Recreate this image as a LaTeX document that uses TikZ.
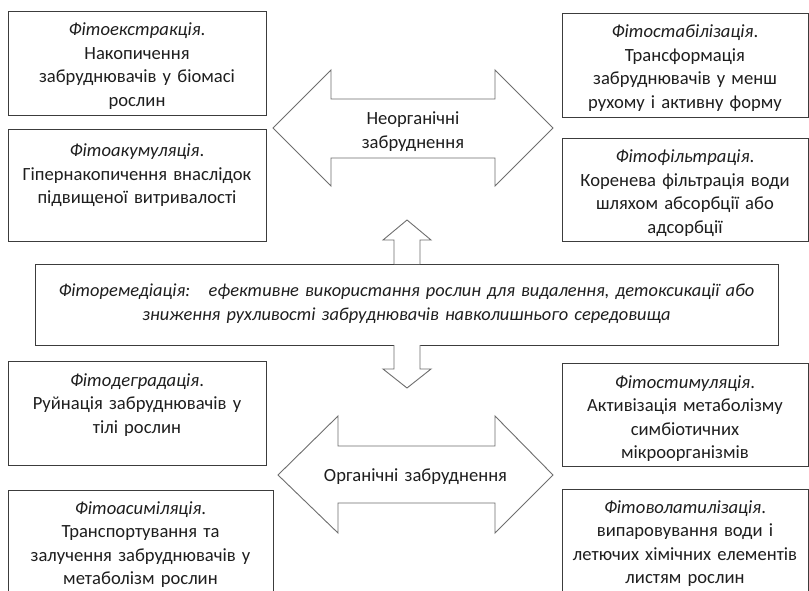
\documentclass[tikz,border=0pt]{standalone}
\usepackage{fontspec}
\setmainfont{Carlito}
\definecolor{txtc}{HTML}{1E1E1E}
\definecolor{boxc}{HTML}{3C3C3C}
\definecolor{arrc}{HTML}{6E6E6E}
\begin{document}
\begin{tikzpicture}[x=1pt,y=-1pt,
  boxst/.style={draw=boxc,line width=0.9pt,fill=white},
  txt/.style={anchor=base,align=center,text width=300pt,text=txtc,font=\fontsize{18.6}{23.5}\selectfont,inner sep=0pt},
  ctxt/.style={anchor=base,align=center,text width=760pt,text=txtc,font=\fontsize{18.4}{24}\selectfont\itshape,inner sep=0pt},
  arrst/.style={draw=arrc,line width=0.9pt,fill=white,line join=miter}]
\useasboundingbox (0,0) rectangle (809,591);
\clip (0,0) rectangle (809,591);
\fill[white] (0,0) rectangle (809,591);
% boxes
\draw[boxst] (8,11) rectangle (266,115);
\node[txt] (t1) at (137,36) {\textit{Фітоекстракція}.\\Накопичення\\забруднювачів у біомасі\\рослин};
\draw[boxst] (8,129) rectangle (266,241);
\node[txt] (t2) at (137,157) {\textit{Фітоакумуляція}.\\Гіпернакопичення внаслідок\\підвищеної витривалості};
\draw[boxst] (562,13) rectangle (808,117);
\node[txt] (t3) at (685,38) {\textit{Фітостабілізація}.\\Трансформація\\забруднювачів у менш\\рухому і активну форму};
\draw[boxst] (562,138) rectangle (808,241);
\node[txt] (t4) at (685,163) {\textit{Фітофільтрація}.\\Коренева фільтрація води\\шляхом абсорбції або\\адсорбції};
\draw[boxst] (8,361) rectangle (266,465);
\node[txt] (t5) at (137,386) {\textit{Фітодеградація}.\\Руйнація забруднювачів у\\тілі рослин};
\draw[boxst] (8,490) rectangle (273,620);
\node[txt] (t6) at (140.5,514) {\textit{Фітоасиміляція}.\\Транспортування та\\залучення забруднювачів у\\метаболізм рослин};
\draw[boxst] (562,363) rectangle (808,466);
\node[txt] (t7) at (685,388) {\textit{Фітостимуляція}.\\Активізація метаболізму\\симбіотичних\\мікроорганізмів};
\draw[boxst] (562,489) rectangle (808,620);
\node[txt] (t8) at (685,513) {\textit{Фітоволатилізація}.\\випаровування води і\\летючих хімічних елементів\\листям рослин};
% central box
\draw[boxst] (35,264) rectangle (778,345);
\node[ctxt] (tc) at (406.5,296) {Фіторемедіація:\ \ \ ефективне використання рослин для видалення, детоксикації або\\зниження рухливості забруднювачів навколишнього середовища};
% vertical arrows
\draw[arrst] (394,264) -- (394,240) -- (383,240) -- (407,220) -- (431,240) -- (420,240) -- (420,264);
\draw[arrst] (394,345) -- (394,369) -- (383,369) -- (407,388) -- (431,369) -- (420,369) -- (420,345);
% horizontal double arrows
\draw[arrst] (273,128) -- (331,70) -- (331,99) -- (495,99) -- (495,70) -- (553,128) -- (495,186) -- (495,158) -- (331,158) -- (331,186) -- cycle;
\node[txt] (ta) at (413,125) {Неорганічні\\забруднення};
\draw[arrst] (278,475) -- (338,416) -- (338,446) -- (495,446) -- (495,416) -- (553,475) -- (495,533) -- (495,503) -- (338,503) -- (338,533) -- cycle;
\node[txt] (tb) at (415.5,481) {Органічні забруднення};
\end{tikzpicture}
\end{document}
